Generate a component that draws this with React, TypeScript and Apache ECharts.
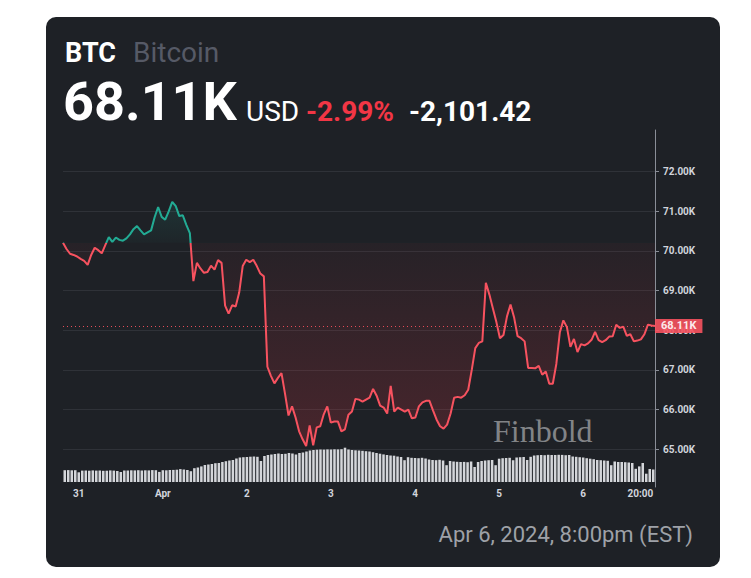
import React, { useEffect, useRef } from "react";
import * as echarts from "echarts";

// Hourly BTC price (thousands USD), Mar 30 20:00 -> Apr 6 20:00 (EST)
const PRICE = [
  70.21, 70.05, 69.93, 69.9, 69.86, 69.8, 69.75, 69.65, 69.9, 70.08,
  70.02, 69.94, 70.15, 70.35, 70.23, 70.34, 70.28, 70.26, 70.32, 70.42,
  70.55, 70.63, 70.52, 70.42, 70.47, 70.52, 70.85, 71.11, 70.86, 70.79,
  71.0, 71.24, 71.13, 70.88, 70.9, 70.66, 70.45, 69.24, 69.7, 69.56,
  69.45, 69.47, 69.63, 69.53, 69.77, 69.7, 68.62, 68.42, 68.63, 68.6,
  68.95, 69.62, 69.78, 69.72, 69.78, 69.62, 69.43, 69.36, 67.08, 66.85,
  66.66, 66.8, 66.92, 66.4, 65.85, 66.08, 65.8, 65.45, 65.25, 65.08,
  65.6, 65.1, 65.55, 65.58, 65.88, 66.08, 65.67, 65.7, 65.7, 65.45,
  65.5, 65.87, 65.95, 66.27, 66.25, 66.2, 66.25, 66.3, 66.52, 66.35,
  66.1, 66.05, 65.9, 66.6, 65.95, 66.05, 66.0, 65.95, 66.0, 65.78,
  65.8, 66.08, 66.18, 66.22, 66.22, 65.98, 65.75, 65.58, 65.52, 65.62,
  65.9, 66.3, 66.32, 66.3, 66.36, 66.5, 67.0, 67.55, 67.68, 67.72,
  69.2, 68.9, 68.55, 68.2, 67.8, 67.88, 68.35, 68.65, 68.33, 67.85,
  67.8, 67.72, 67.05, 67.05, 67.04, 67.1, 66.88, 66.96, 66.65, 66.65,
  67.15, 67.95, 68.25, 68.08, 67.58, 67.78, 67.45, 67.65, 67.62, 67.67,
  67.76, 67.96, 67.75, 67.7, 67.75, 67.84, 67.85, 68.14, 68.06, 68.09,
  67.86, 67.9, 67.72, 67.74, 67.77, 67.9, 68.14, 68.12, 68.11,
];

// Hourly volume (arbitrary units)
const VOLUME = [
  1180, 1190, 1170, 1180, 970, 1140, 1150, 1130, 1160, 1140,
  1150, 1120, 1130, 1160, 1140, 1100, 1000, 1150, 1140, 1170,
  1160, 1180, 1150, 1170, 1160, 1190, 1180, 1010,
  1180, 1170, 1200, 1210, 1230, 1290, 1250, 1200, 1080, 1380, 1450, 1560,
  1700, 1750, 1800, 1880, 1900, 2000, 2080, 2150, 2200, 2350,
  2450, 2480, 2500, 2530, 2550, 2520, 2100, 2600, 2700, 2750,
  2800, 2850, 2800, 2820, 2900, 2850, 2750, 2900, 2950, 3050,
  3150, 3200, 3230, 3250, 3240, 3260, 3250, 3270, 3260, 3280,
  3430, 3250, 3200, 3170, 3150, 3120, 3080, 3050, 2980, 2900,
  2830, 2760, 2700, 2650, 2630, 2550, 2500, 2180, 2480, 2420,
  2400, 2380, 2420, 2350, 2250, 2200, 2180, 2220, 2150, 1680,
  2100, 2050, 2020, 2000, 2010, 1980, 2050, 1500, 2000, 2100,
  2150, 2180, 2200, 1680, 2330, 2380, 2400, 2420, 2170, 2450,
  2480, 2500, 2200, 2520, 2650, 2680, 2700, 2680, 2720, 2700,
  2700, 2720, 2710, 2680, 2700, 2550, 2520, 2480, 2450, 2380,
  2330, 2280, 2200, 2180, 2150, 2120, 1680, 2050, 2000, 2000,
  1980, 1950, 1900, 1320, 1560, 1900, 830, 1300, 1250,
];

const START_UTC = Date.UTC(2024, 2, 30, 20); // first sample
const X_TICK_INDEX = [4, 28, 52, 76, 100, 124, 148, 168];
const X_TICK_TEXT = ["31", "Apr", "2", "3", "4", "5", "6", "20:00"];
const PREV_CLOSE = 70.21;
const LAST_PRICE = 68.11;
const Y_MIN = 65;
const Y_MAX = 72;

const UP = "#22ab94";
const DOWN = "#f7525f";
const FONT = "Roboto, 'Noto Sans', sans-serif";

export default function App() {
  const ref = useRef<HTMLDivElement>(null);

  useEffect(() => {
    if (!ref.current) return;
    const chart = echarts.init(ref.current, undefined, { renderer: "svg" });

    const categories = PRICE.map((_, i) => {
      const d = new Date(START_UTC + i * 3600 * 1000);
      return `${d.getUTCMonth() + 1}/${d.getUTCDate()} ${String(d.getUTCHours()).padStart(2, "0")}:00`;
    });

    const hi = Math.max(...PRICE, PREV_CLOSE);
    const lo = Math.min(...PRICE, PREV_CLOSE);
    const f = (hi - PREV_CLOSE) / (hi - lo);

    const option: any = {
      animation: false,
      backgroundColor: "transparent",
      textStyle: { fontFamily: FONT },
      grid: [
        { left: 63, right: 96, top: 171.7, bottom: 578 - 449.2 },
        { left: 63, right: 96, top: 446, bottom: 578 - 482 },
        { left: 63, right: 96, top: 130, bottom: 578 - 487 },
      ],
      xAxis: [
        {
          gridIndex: 0,
          type: "category",
          data: categories,
          boundaryGap: false,
          show: false,
        },
        {
          gridIndex: 1,
          type: "category",
          data: categories,
          boundaryGap: true,
          axisLine: { show: false },
          axisTick: { show: false },
          axisLabel: {
            interval: (index: number) => X_TICK_INDEX.includes(index),
            formatter: (_v: string, index: number) => {
              const k = X_TICK_INDEX.indexOf(index);
              return k >= 0 ? X_TICK_TEXT[k] : "";
            },
            color: "#d1d4dc",
            fontSize: 10,
            fontWeight: "bold",
            fontFamily: FONT,
            margin: 6,
            alignMaxLabel: "right",
          },
        },
        { gridIndex: 2, type: "value", min: 0, max: 1, show: false },
      ],
      yAxis: [
        {
          gridIndex: 0,
          type: "value",
          position: "right",
          min: Y_MIN,
          max: Y_MAX,
          interval: 1,
          axisLine: { show: false },
          axisTick: { show: true, length: 4, lineStyle: { color: "#8a8e97" } },
          axisLabel: {
            formatter: (v: number) => v.toFixed(2) + "K",
            color: "#d1d4dc",
            fontSize: 10,
            fontWeight: "bold",
            fontFamily: FONT,
            margin: 8,
          },
          splitLine: { lineStyle: { color: "#2f3238", width: 1 } },
        },
        {
          gridIndex: 1,
          type: "value",
          min: 0,
          max: 3600,
          show: false,
        },
        {
          gridIndex: 2,
          type: "value",
          position: "right",
          min: 0,
          max: 1,
          axisLine: { show: true, onZero: false, lineStyle: { color: "#8a8e97", width: 1 } },
          axisTick: { show: false },
          axisLabel: { show: false },
          splitLine: { show: false },
        },
      ],
      visualMap: {
        show: false,
        type: "piecewise",
        seriesIndex: 0,
        dimension: 1,
        pieces: [
          { gt: PREV_CLOSE, lte: 100, color: UP },
          { gt: 0, lte: PREV_CLOSE, color: DOWN },
        ],
        outOfRange: { color: DOWN },
      },
      series: [
        {
          type: "line",
          xAxisIndex: 0,
          yAxisIndex: 0,
          data: PRICE,
          showSymbol: false,
          symbol: "none",
          z: 5,
          lineStyle: { width: 2 },
          areaStyle: {
            origin: PREV_CLOSE,
            opacity: 1,
            color: new echarts.graphic.LinearGradient(0, 0, 0, 1, [
              { offset: 0, color: "rgba(34,171,148,0.14)" },
              { offset: f, color: "rgba(34,171,148,0.03)" },
              { offset: f, color: "rgba(242,54,69,0.04)" },
              { offset: 1, color: "rgba(242,54,69,0.2)" },
            ]),
          },
          markLine: {
            silent: true,
            symbol: ["none", "none"],
            lineStyle: { color: DOWN, type: [1, 3], width: 1, opacity: 0.9 },
            label: {
              show: true,
              position: "end",
              distance: 0,
              formatter: () => LAST_PRICE.toFixed(2) + "K",
              backgroundColor: DOWN,
              color: "#ffffff",
              fontSize: 11,
              fontWeight: "bold",
              fontFamily: FONT,
              padding: [2, 6, 1, 6],
            },
            data: [{ yAxis: LAST_PRICE }],
          },
        },
        {
          type: "bar",
          xAxisIndex: 1,
          yAxisIndex: 1,
          data: VOLUME,
          barCategoryGap: "28%",
          itemStyle: { color: "#d4d6da" },
          z: 2,
          silent: true,
        },
      ],
      graphic: [
        {
          type: "text",
          left: 65,
          top: 39,
          style: { text: "BTC", font: `bold 27px ${FONT}`, fill: "#ffffff" },
        },
        {
          type: "text",
          left: 133,
          top: 38,
          style: { text: "Bitcoin", font: `28px ${FONT}`, fill: "#565a66" },
        },
        {
          type: "text",
          left: 63,
          top: 74,
          style: { text: "68.11K", font: `bold 54px ${FONT}`, fill: "#ffffff" },
        },
        {
          type: "text",
          left: 246,
          top: 97,
          style: { text: "USD", font: `28px ${FONT}`, fill: "#ffffff" },
        },
        {
          type: "text",
          left: 306,
          top: 97,
          style: { text: "-2.99%", font: `bold 28px ${FONT}`, fill: "#f23645" },
        },
        {
          type: "text",
          left: 409,
          top: 97,
          style: { text: "-2,101.42", font: `bold 28px ${FONT}`, fill: "#ffffff" },
        },
        {
          type: "text",
          left: 493,
          top: 415,
          z: 1,
          style: { text: "Finbold", font: `32px 'Liberation Serif', serif`, fill: "#828487" },
        },
        {
          type: "text",
          right: 58,
          top: 523,
          style: { text: "Apr 6, 2024, 8:00pm (EST)", font: `22px ${FONT}`, fill: "#9ea1a8" },
        },
      ],
    };

    chart.setOption(option);
    return () => chart.dispose();
  }, []);

  return (
    <div style={{ position: "fixed", left: 0, top: 0, width: 751, height: 578, background: "#ffffff" }}>
      <div
        style={{
          position: "absolute",
          left: 46,
          top: 17,
          width: 674,
          height: 550,
          borderRadius: 10,
          background: "#1e2126",
        }}
      />
      <div ref={ref} style={{ position: "absolute", left: 0, top: 0, width: 751, height: 578 }} />
    </div>
  );
}
